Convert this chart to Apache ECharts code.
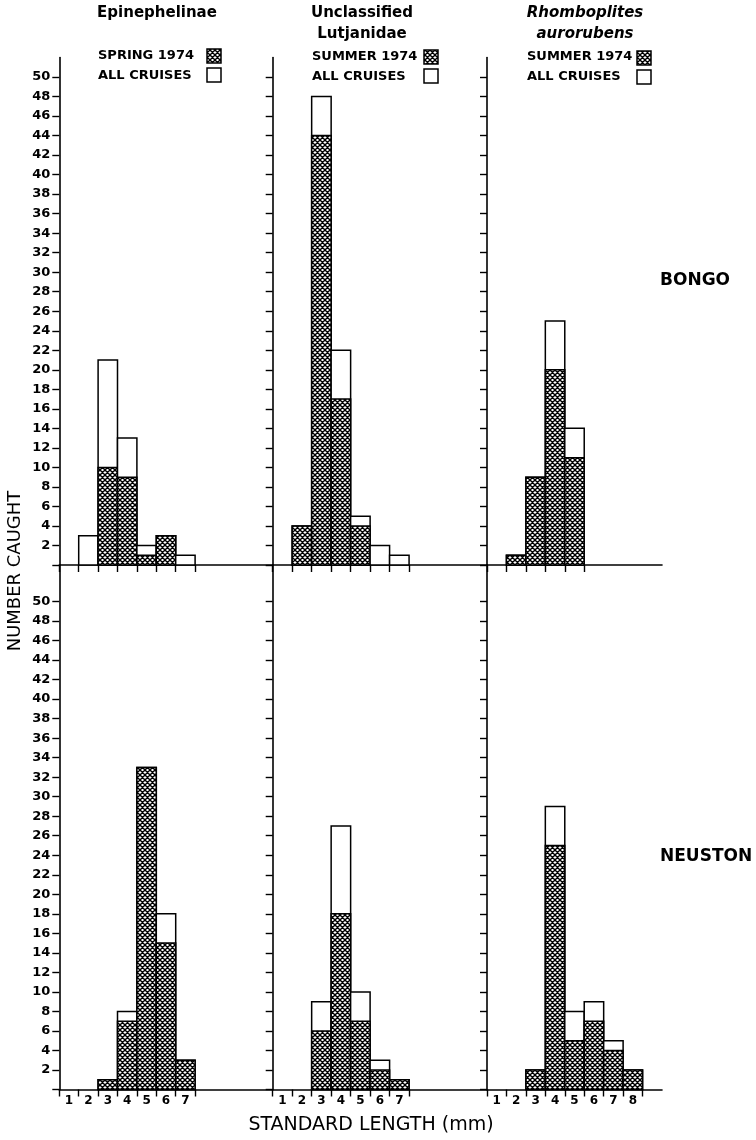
<!DOCTYPE html>
<html>
<head>
<meta charset="utf-8">
<script src="https://cdn.jsdelivr.net/npm/echarts@6/dist/echarts.min.js"></script>
<style>
html,body{margin:0;padding:0;background:#fff;}
#chart{width:756px;height:1140px;}
</style>
</head>
<body>
<div id="chart"></div>
<script>
// ---- Data (bins labelled 1..n, standard length in mm) ----
const epiBongoAll       = [0, 3, 21, 13, 2, 3, 1];
const epiBongoSpring    = [0, 0, 10, 9, 1, 3, 0];
const lutBongoAll       = [0, 4, 48, 22, 5, 2, 1];
const lutBongoSummer    = [0, 4, 44, 17, 4, 0, 0];
const rhoBongoAll       = [0, 1, 9, 25, 14];
const rhoBongoSummer    = [0, 1, 9, 20, 11];
const epiNeustonAll     = [0, 0, 1, 8, 33, 18, 3];
const epiNeustonSpring  = [0, 0, 1, 7, 33, 15, 3];
const lutNeustonAll     = [0, 0, 9, 27, 10, 3, 1];
const lutNeustonSummer  = [0, 0, 6, 18, 7, 2, 1];
const rhoNeustonAll     = [0, 0, 2, 29, 8, 9, 5, 2];
const rhoNeustonSummer  = [0, 0, 2, 25, 5, 7, 4, 2];

const yTickLabels = [2,4,6,8,10,12,14,16,18,20,22,24,26,28,30,32,34,36,38,40,42,44,46,48,50];
const titles = ['Epinephelinae', 'Unclassified', 'Lutjanidae', 'Rhomboplites', 'aurorubens'];
const legendSeason = ['SPRING 1974', 'SUMMER 1974', 'SUMMER 1974'];
const legendAll = 'ALL CRUISES';
const rowLabels = ['BONGO', 'NEUSTON'];
const yTitle = 'NUMBER CAUGHT';
const xTitle = 'STANDARD LENGTH (mm)';

// ---- hatch pattern ----
function makeHatch() {
  const s = 5;
  const c = document.createElement('canvas');
  c.width = s; c.height = s;
  const ctx = c.getContext('2d');
  ctx.fillStyle = '#fff';
  ctx.fillRect(0, 0, s, s);
  ctx.strokeStyle = '#000';
  ctx.lineWidth = 1.4;
  ctx.beginPath();
  for (const dx of [-s, 0, s]) {
    ctx.moveTo(dx, 0); ctx.lineTo(dx + s, s);
    ctx.moveTo(dx + s, 0); ctx.lineTo(dx, s);
  }
  ctx.stroke();
  return c;
}
const hatchCanvas = makeHatch();
const hatch = () => ({ image: hatchCanvas, repeat: 'repeat' });

const FONT = "'DejaVu Sans', sans-serif";
const GT = 57.5, G_MID = 565, G_BOT = 1089.5;
const cols = [{ x: 59.3, w: 213.4, n: 11 }, { x: 272.7, w: 214.3, n: 11 }, { x: 487, w: 175, n: 9 }];
const panels = [
  { row: 0, col: 0, all: epiBongoAll, season: epiBongoSpring },
  { row: 0, col: 1, all: lutBongoAll, season: lutBongoSummer },
  { row: 0, col: 2, all: rhoBongoAll, season: rhoBongoSummer },
  { row: 1, col: 0, all: epiNeustonAll, season: epiNeustonSpring },
  { row: 1, col: 1, all: lutNeustonAll, season: lutNeustonSummer },
  { row: 1, col: 2, all: rhoNeustonAll, season: rhoNeustonSummer }
];

const grid = [], xAxis = [], yAxis = [], series = [];
panels.forEach((p, i) => {
  const c = cols[p.col];
  const top = p.row === 0 ? GT : G_MID;
  const bottom = p.row === 0 ? G_MID : G_BOT;
  const unit = 9.76;
  grid.push({ left: c.x, top: top, width: c.w, height: bottom - top });
  const nb = p.all.length;
  const tickVals = []; for (let k = 0; k <= nb; k++) tickVals.push(k);
  const labVals = []; for (let k = 0; k < nb; k++) labVals.push(k + 0.5);
  xAxis.push({
    gridIndex: i, type: 'value', min: 0, max: c.n,
    axisLine: { show: true, onZero: false, lineStyle: { color: '#000', width: 1.6 } },
    axisTick: { show: true, inside: false, length: 7, customValues: tickVals, lineStyle: { color: '#000', width: 1.4 } },
    axisLabel: {
      show: p.row === 1, customValues: labVals, margin: 5,
      formatter: v => String(Math.round(v + 0.5)),
      fontFamily: FONT, fontSize: 12, fontWeight: 'bold', color: '#000'
    },
    splitLine: { show: false }
  });
  yAxis.push({
    gridIndex: i, type: 'value', min: 0, max: (bottom - top) / unit,
    axisLine: { show: true, onZero: false, lineStyle: { color: '#000', width: 1.6 } },
    axisTick: { show: true, inside: false, length: 7, customValues: [0].concat(yTickLabels), lineStyle: { color: '#000', width: 1.4 } },
    axisLabel: {
      show: p.col === 0, customValues: yTickLabels, margin: 9,
      fontFamily: FONT, fontSize: 13, fontWeight: 'bold', color: '#000'
    },
    splitLine: { show: false }
  });
  const data = p.all.map((v, k) => [k + 1, v, p.season[k]]);
  series.push({
    type: 'custom', xAxisIndex: i, yAxisIndex: i, data: data, clip: false,
    renderItem: function (params, api) {
      const bin = api.value(0), all = api.value(1), s = api.value(2);
      const children = [];
      if (all > 0) {
        const a = api.coord([bin - 1, all]), b = api.coord([bin, 0]);
        children.push({ type: 'rect', shape: { x: a[0], y: a[1], width: b[0] - a[0], height: b[1] - a[1] },
          style: { fill: '#fff', stroke: '#000', lineWidth: 1.5 } });
      }
      if (s > 0) {
        const a = api.coord([bin - 1, s]), b = api.coord([bin, 0]);
        children.push({ type: 'rect', shape: { x: a[0], y: a[1], width: b[0] - a[0], height: b[1] - a[1] },
          style: { fill: hatch(), stroke: '#000', lineWidth: 1.5 } });
      }
      return { type: 'group', children: children };
    }
  });
});

function txt(text, x, y, font, align, extra) {
  return Object.assign({ type: 'text', x: x, y: y, style: { text: text, x: 0, y: 0, font: font, fill: '#000', textAlign: align || 'left', textVerticalAlign: 'middle' } }, extra || {});
}
function box(x, y, hatched) {
  return { type: 'rect', shape: { x: x, y: y, width: 14, height: 14 }, style: { fill: hatched ? hatch() : '#fff', stroke: '#000', lineWidth: 1.5 } };
}

const TB = "bold 15px " + FONT;
const TI = "italic bold 15px " + FONT;
const LG = "bold 13px " + FONT;
const graphic = [
  txt(titles[0], 157, 13, TB, 'center'),
  txt(legendSeason[0], 98, 56, LG), box(207, 49, true),
  txt(legendAll, 98, 76, LG), box(207, 68, false),
  txt(titles[1], 362, 13, TB, 'center'),
  txt(titles[2], 362, 34, TB, 'center'),
  txt(legendSeason[1], 312, 57, LG), box(424, 50, true),
  txt(legendAll, 312, 77, LG), box(424, 69, false),
  txt(titles[3], 585, 13, TI, 'center'),
  txt(titles[4], 585, 34, TI, 'center'),
  txt(legendSeason[2], 527, 57, LG), box(637, 51, true),
  txt(legendAll, 527, 77, LG), box(637, 70, false),
  txt(rowLabels[0], 660, 281, "bold 17px " + FONT, 'left'),
  txt(rowLabels[1], 660, 857, "bold 17px " + FONT, 'left'),
  txt(yTitle, 15, 571, "18px " + FONT, 'center', { rotation: Math.PI / 2 }),
  txt(xTitle, 371, 1125, "19px " + FONT, 'center')
];

const chart = echarts.init(document.getElementById('chart'), null, { renderer: 'canvas' });
chart.setOption({
  animation: false,
  backgroundColor: '#fff',
  grid: grid, xAxis: xAxis, yAxis: yAxis, series: series,
  graphic: { elements: graphic }
});
</script>
</body>
</html>
